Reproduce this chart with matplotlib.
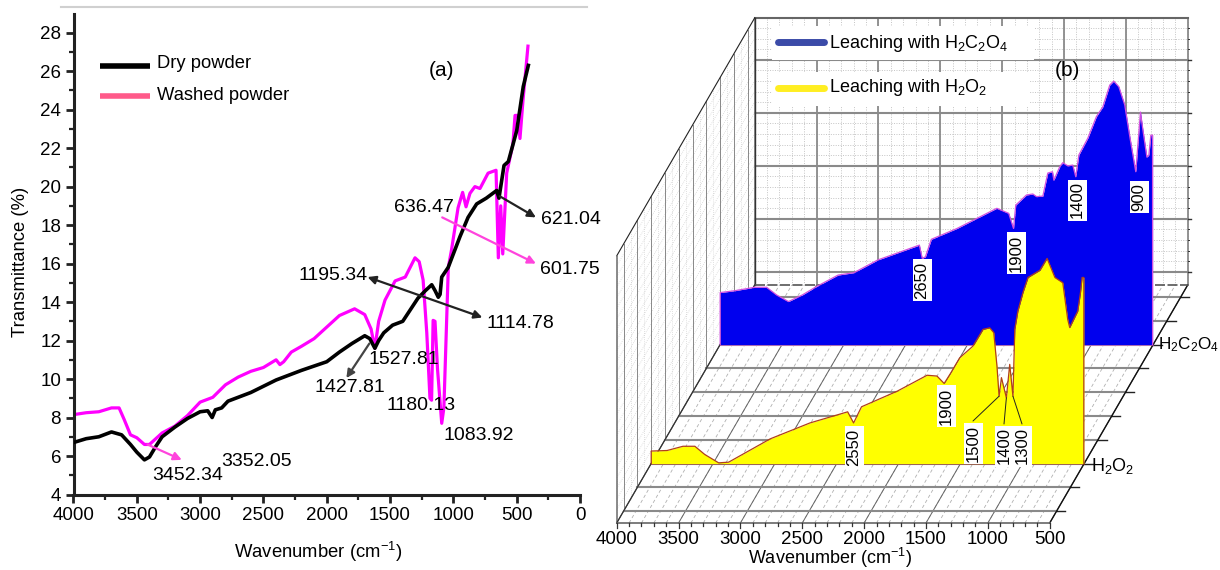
from matplotlib import pyplot as plt
import numpy as np

plt.rcParams['font.family']=['Liberation Sans','DejaVu Sans']
plt.rcParams['mathtext.default']='regular'

#   Panel (a)
dry_wn=[4000,3900,3800,3700,3620,3550,3500,3440,3400,3350,3300,3200,3100,3000,2940,2905,2880,2830,2780,
        2600,2400,2200,2000,1900,1800,1700,1660,1620,1590,1550,1480,1400,1350,1280,1220,1171,1145,1119,
        1105,1092,1041,948,884,816,740,658,640,600,566,500,448,408]
dry_t=[6.7,6.9,7.0,7.25,7.1,6.6,6.2,5.8,5.95,6.5,7.0,7.5,7.95,8.3,8.35,8.0,8.4,8.5,8.85,
       9.3,9.95,10.45,10.9,11.4,11.85,12.25,12.1,11.6,12.0,12.4,12.8,13.0,13.5,14.2,14.6,14.9,14.6,14.25,
       14.4,15.3,15.8,17.4,18.4,19.1,19.4,19.8,19.4,21.1,21.3,22.9,25.2,26.3]
washed_wn=[4000,3900,3800,3700,3640,3600,3550,3500,3440,3400,3350,3300,3200,3100,3000,2900,2800,2700,
           2600,2500,2400,2370,2340,2280,2200,2100,2000,1900,1780,1700,1650,1620,1590,1540,1460,1380,
           1303,1270,1239,1210,1185,1172,1160,1145,1125,1092,1075,1040,1015,963,927,900,869,830,790,726,
           663,645,626,610,579,553,530,513,490,474,450,411]
washed_t=[8.15,8.25,8.3,8.5,8.5,7.9,7.1,6.95,6.6,6.6,6.9,7.2,7.55,8.1,8.8,9.05,9.7,10.1,
          10.4,10.6,11.0,10.75,10.9,11.4,11.7,12.1,12.7,13.3,13.65,13.35,12.6,11.6,13.0,14.1,15.1,15.3,
          16.3,16.1,15.15,12.4,9.0,8.9,13.05,13.0,10.5,7.7,8.5,15.8,16.7,18.9,19.7,18.95,19.65,20,19.9,20.7,
          20.85,16.3,19,16.5,20.7,21.5,22.2,23.7,23.7,22.5,24.5,27.3]

#   Panel (b), wavenumber and height on the vertical scale of the box
oxalic_wn=[4000,3881,3721,3625,3544,3448,3336,3224,3047,2919,2726,2390,2367,2341,2293,2085,1764,1668,1629,
           1611,1525,1473,1443,1392,1352,1314,1303,1255,1231,1190,1150,1126,1101,1028,959,907,851,819,778,
           730,689,641,625,603,583,551,535,519,505]
oxalic_v=[19.6,20.3,21.6,21.6,18.7,16.2,18.7,21.8,26.2,27.1,31.9,37.5,32.5,33.1,39.7,43.8,51.4,49.5,43.8,
          52.6,56.4,56.8,55.8,56,64.7,65.2,62,67.1,68.6,67.4,67.7,63.3,71.5,77.9,86,89.7,97.9,99.4,97.3,
          90.4,78.4,65.2,74.6,87.7,80.9,70.7,71.5,79,79]
peroxide_wn=[4000,3872,3743,3647,3567,3455,3374,3038,2717,2412,2364,2300,2011,1770,1690,1632,1578,1506,1399,
             1318,1264,1231,1205,1188,1169,1129,1102,1076,1061,1036,995,954,858,800,737,673,633,617,552,530,517,503]
peroxide_v=[4.7,4.9,6.5,6.5,3.4,0.25,0.5,9.3,15.3,19.5,15.3,21.4,27.3,33.3,33,30.2,34.2,39.9,44.3,
            50.6,51.2,49.4,36.7,25.4,32.4,24.8,37.4,25.4,50.6,57.5,64.5,70.2,72.9,77.4,70.2,68.2,54.3,51.3,57.5,64.5,70.2,70.2]

x_ticks_a=[4000,3500,3000,2500,2000,1500,1000,500,0]
y_ticks_a=list(range(4,30,2))
x_ticks_b=[4000,3500,3000,2500,2000,1500,1000,500]

#   Oblique box of panel (b), in figure pixels
X0,Y0=616.7,523.0
SX=433.0/3500
SY=2.65
DX,DY=13.8,23.8

def Project(wn,depth,val):
    wn=np.asarray(wn,dtype=float)
    val=np.asarray(val,dtype=float)
    return X0+(4000-wn)*SX+depth*DX, Y0-val*SY-depth*DY

def Draw_box(ax):
    TOP=100.8
    BACK=10.0
    GREY='#8a8a8a'

    #   Dotted minor grid
    for wn in np.arange(4000,499,-100):
        x,y=Project([wn,wn],BACK,[0,TOP])
        ax.plot(x,y,color='#c4c4c4',lw=0.7,ls=(0,(1,1.5)),zorder=1)
        x,y=Project([wn,wn],np.array([0,BACK]),[0,0])
        ax.plot(x,y,color='#b0b0b0',lw=0.6,ls=(0,(4,3)),zorder=1)
    for val in np.arange(5,TOP,4):
        x,y=Project([4000,500],BACK,[val,val])
        ax.plot(x,y,color='#c4c4c4',lw=0.7,ls=(0,(1,1.5)),zorder=1)
        x,y=Project([4000,4000],np.array([0,BACK]),[val,val])
        ax.plot(x,y,color='#c4c4c4',lw=0.5,ls=(0,(1,2)),zorder=1)
    for d in np.arange(0,BACK,0.5):
        x,y=Project([4000,4000],d,[0,TOP])
        ax.plot(x,y,color='#c4c4c4',lw=0.5,ls=(0,(1,2)),zorder=1)

    #   Major grid on the back wall and floor
    for wn in x_ticks_b:
        x,y=Project([wn,wn],BACK,[0,TOP])
        ax.plot(x,y,color=GREY,lw=1.3,zorder=2)
        x,y=Project([wn,wn],np.array([0,BACK]),[0,0])
        ax.plot(x,y,color='#666666',lw=0.7,zorder=2)
    for val in [5,25,45,65,85]:
        x,y=Project([4000,500],BACK,[val,val])
        ax.plot(x,y,color=GREY,lw=1.5,zorder=2)
        x,y=Project([500,477],BACK,[val,val])
        ax.plot(x,y,color='#333333',lw=1.0,zorder=2)
    for val in np.arange(5,TOP,4):
        x,y=Project([500,488],BACK,[val,val])
        ax.plot(x,y,color='#333333',lw=0.7,zorder=2)
    for d in np.arange(0.5,10,1.0):
        x,y=Project([4000,500],d,[0,0])
        ax.plot(x,y,color=GREY,lw=1.5,zorder=2)
        x,y=Project([500,430],d,[0,0])
        ax.plot(x,y,color='#222222',lw=1.0,zorder=2)
        x,y=Project([4000,4000],d,[0,TOP])
        ax.plot(x,y,color='#888888',lw=0.7,zorder=2)

    #   Outline
    x,y=Project([4000,500],BACK,[TOP,TOP])
    ax.plot(x,y,color='#666666',lw=1.5,zorder=2)
    x,y=Project([4000,4000],BACK,[0,TOP])
    ax.plot(x,y,color='#333333',lw=1.0,zorder=2)
    x,y=Project([4000,4000],np.array([0,BACK]),[TOP,TOP])
    ax.plot(x,y,color='#222222',lw=0.8,zorder=2)
    x,y=Project([4000,4000],0,[0,TOP])
    ax.plot(x,y,color='#777777',lw=1.2,zorder=2)
    x,y=Project([4000,4000],np.array([0,BACK]),[0,0])
    ax.plot(x,y,color='#333333',lw=0.9,zorder=2)
    x,y=Project([500,500],np.array([0,BACK]),[0,0])
    ax.plot(x,y,color='#111111',lw=1.0,zorder=2)
    x,y=Project([4000,500],BACK,[0,0])
    ax.plot(x,y,color='#555555',lw=1.2,ls=(0,(6,1.5)),zorder=2)
    x,y=Project([4000,500],0,[0,0])
    ax.plot(x,y,color='#666666',lw=1.2,zorder=2)

    #   Front ticks and labels
    for wn in np.arange(4000,499,-100):
        x,y=Project([wn,wn],0,[0,-2.0 if wn%500==0 else -1.2])
        ax.plot(x,y,color='#333333',lw=0.9,zorder=2)
    for wn in x_ticks_b:
        x,y=Project(wn,0,-6.3)
        ax.text(x,y,str(wn),fontsize=13.5,ha='center',va='center')

def Draw_series(ax,wn,val,depth,fill,edge):
    x,y=Project(wn,depth,val)
    xb,yb=Project(wn,depth,np.zeros(len(wn)))
    ax.fill_between(x,y,yb,color=fill,lw=0,zorder=3)
    ax.plot(np.r_[x[0],x,x[-1]],np.r_[yb[0],y,yb[-1]],color=edge,lw=0.9,zorder=3)
    ax.plot([xb[0],xb[-1]],[yb[0],yb[-1]],color=edge,lw=0.7,alpha=0.5,zorder=3)

def Peak_label(ax,text,x,y,anchor=None,depth=2.5):
    #   Rotated value in a white box, optional leader to a point on the spectrum
    ax.text(x,y,text,rotation=90,fontsize=12,ha='center',va='center',zorder=5,
            bbox=dict(fc='white',ec='none',pad=1.5))
    if anchor!=None:
        xa,ya=Project(anchor[0],depth,anchor[1])
        ax.annotate('',xy=(float(xa),float(ya)),xytext=(x,y-22),zorder=5,
                    arrowprops=dict(arrowstyle='-',color='#222222',lw=0.7,shrinkA=0,shrinkB=0))

fig=plt.figure(figsize=(12.2,5.7),dpi=100)

#   Panel (a)
ax=fig.add_axes([73.5/1220,1-494.5/570,506.5/1220,480.5/570])
ax.plot(washed_wn,washed_t,color='#ff00ff',lw=2.3,zorder=2)
ax.plot(dry_wn,dry_t,color='black',lw=2.6,zorder=3)
ax.set_xlim(4000,0)
ax.set_ylim(4,28.97)
ax.set_xticks(x_ticks_a)
ax.set_xticks(np.arange(250,4000,500),minor=True)
ax.set_yticks(y_ticks_a)
ax.set_yticks(np.arange(5,29,2),minor=True)
ax.tick_params(which='major',length=6,width=2,labelsize=13.5,pad=3,color='#222222')
ax.tick_params(which='minor',length=3.5,width=1.6,color='#222222')
ax.spines['top'].set_visible(False)
ax.spines['right'].set_visible(False)
ax.spines['left'].set_linewidth(2.2)
ax.spines['bottom'].set_linewidth(2.2)
ax.spines['left'].set_color('#222222')
ax.spines['bottom'].set_color('#222222')

def Arrow(start,end,color,style='-|>',lw=1.6):
    ax.annotate('',xy=end,xytext=start,zorder=4,
                arrowprops=dict(arrowstyle=style,color=color,lw=lw,shrinkA=0,shrinkB=0,mutation_scale=12))

Arrow((634,19.5),(348,18.4),'#222222')
Arrow((1088,18.4),(348,16.0),'#ff44dd')
Arrow((771,13.2),(1678,15.3),'#222222','<|-|>')
Arrow((3416,6.6),(3145,5.8),'#ff44dd')
Arrow((1663,11.85),(1845,10.05),'#444444')

#   Everything placed by pixel goes on an overlay covering the whole figure
ov=fig.add_axes([0,0,1,1],facecolor='none')
ov.set_xlim(0,1220)
ov.set_ylim(570,0)
ov.axis('off')

ov.plot([61,587],[7,7],color='#d0d0d0',lw=1.5)

#   Legend (a)
ov.plot([99.5,150],[66,66],color='black',lw=4.0,solid_capstyle='butt')
ov.plot([99.5,150],[96,96],color='#ff5a8a',lw=4.0,solid_capstyle='butt')
ov.text(157,64,'Dry powder',fontsize=13.2,va='center')
ov.text(157,95,'Washed powder',fontsize=13.2,va='center')
ov.text(441,70,'(a)',fontsize=15,ha='center',va='center')

ov.text(21,262,'Transmittance (%)',fontsize=13.3,rotation=90,ha='center',va='center')
ov.text(318,552,'Wavenumber (cm$^{-1}$)',fontsize=13.3,ha='center',va='center')

peak_labels_a=[('621.04',571,220),('636.47',424,208),('601.75',570,270),('1195.34',333,276),
               ('1114.78',520,324),('1527.81',404,360),('1427.81',350,388),('1180.13',421,405),
               ('1083.92',479,436),('3452.34',188,475),('3352.05',257,461)]
for text,x,y in peak_labels_a:
    ov.text(x,y,text,fontsize=14,ha='center',va='center',zorder=6)

#   Panel (b)
Draw_box(ov)
Draw_series(ov,oxalic_wn,oxalic_v,7.5,'#0000ee','#d24fe0')
Draw_series(ov,peroxide_wn,peroxide_v,2.5,'#ffff00','#b0401a')

Peak_label(ov,'2650',922,280)
Peak_label(ov,'1900',1016,253)
Peak_label(ov,'1400',1077,200)
Peak_label(ov,'900',1139,197)
Peak_label(ov,'2550',854,447)
Peak_label(ov,'1900',946,406)
Peak_label(ov,'1500',973,443,(1188,25.4))
Peak_label(ov,'1400',1004,446,(1129,24.8))
Peak_label(ov,'1300',1022,446,(1076,25.4))

#   Legend (b)
ov.add_patch(plt.Rectangle((772,26),262,34,fc='white',ec='none',zorder=2))
ov.add_patch(plt.Rectangle((772,72),258,34,fc='white',ec='none',zorder=2))
ov.plot([778,824],[42,42],color='#3b4ba8',lw=5,zorder=6,solid_capstyle='round')
ov.plot([778,824],[88,88],color='#ffee22',lw=5,zorder=6,solid_capstyle='round')
ov.text(829,43,'Leaching with H$_2$C$_2$O$_4$',fontsize=13,va='center',zorder=6)
ov.text(829,88,'Leaching with H$_2$O$_2$',fontsize=13,va='center',zorder=6)
ov.text(1067,70,'(b)',fontsize=15,ha='center',va='center',zorder=6)

ov.text(1158,345,'H$_2$C$_2$O$_4$',fontsize=12.3,va='center',zorder=6)
ov.text(1091,466,'H$_2$O$_2$',fontsize=13,va='center',zorder=6)
ov.text(830,558,'Wavenumber (cm$^{-1}$)',fontsize=13,ha='center',va='center',zorder=6)

fig.savefig('out.png',dpi=100)
